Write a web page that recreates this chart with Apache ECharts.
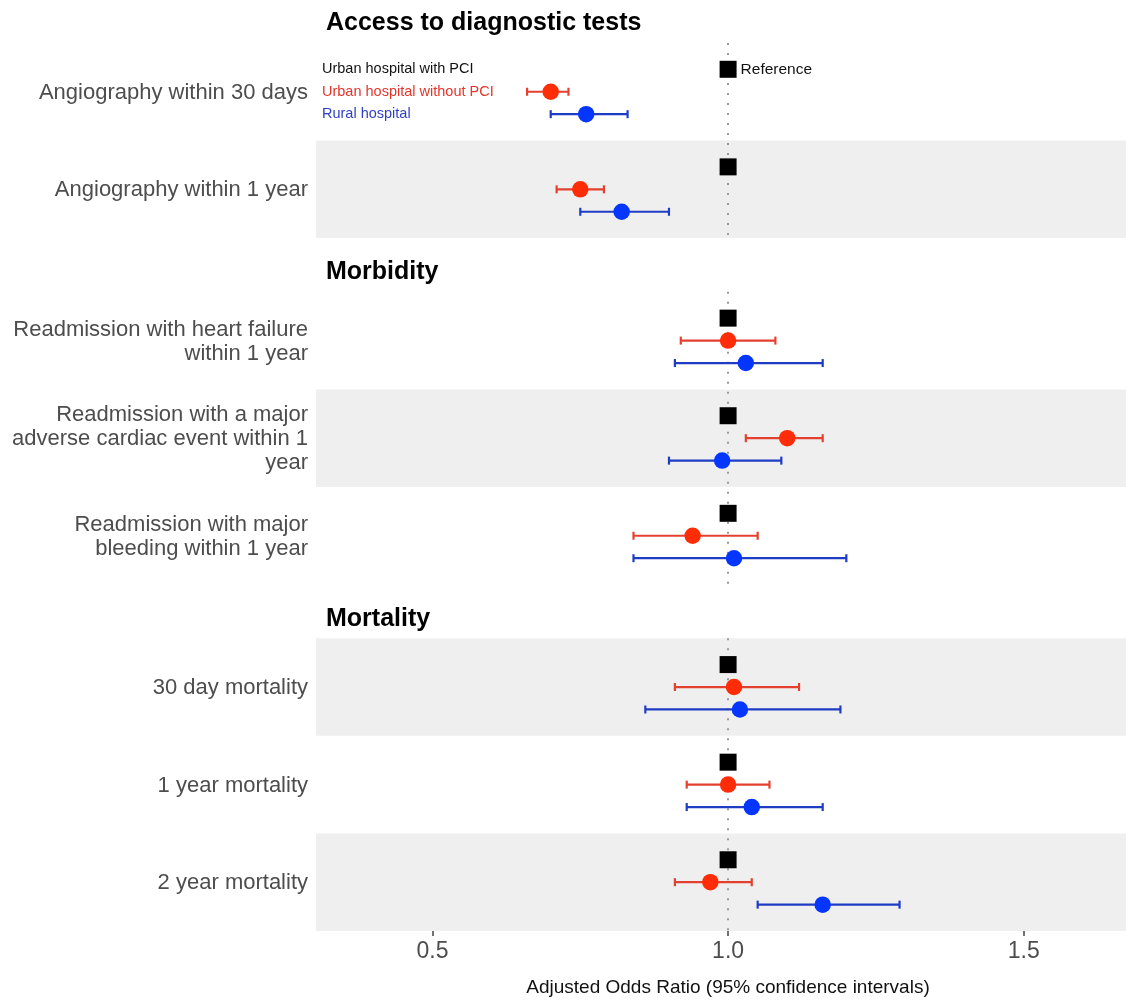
<!DOCTYPE html>
<html>
<head>
<meta charset="utf-8">
<script src="https://cdn.jsdelivr.net/npm/echarts@6/dist/echarts.min.js"></script>
<style>
html,body{margin:0;padding:0;background:#fff;}
#chart{width:1126px;height:1002px;}
</style>
</head>
<body>
<div id="chart"></div>
<script>
// ---------- data ----------
const sectionTitles = ['Access to diagnostic tests', 'Morbidity', 'Mortality'];
const rowLabels = [
  'Angiography within 30 days',
  'Angiography within 1 year',
  'Readmission with heart failure\nwithin 1 year',
  'Readmission with a major\nadverse cardiac event within 1\nyear',
  'Readmission with major\nbleeding within 1 year',
  '30 day mortality',
  '1 year mortality',
  '2 year mortality'
];
const rowSection = [0, 0, 1, 1, 1, 2, 2, 2];
const seriesNames = ['Urban hospital with PCI', 'Urban hospital without PCI', 'Rural hospital'];
const referenceOR = [1, 1, 1, 1, 1, 1, 1, 1];
const urbanNoPciOR   = [0.70, 0.75, 1.00, 1.10, 0.94, 1.01, 1.00, 0.97];
const urbanNoPciLow  = [0.66, 0.71, 0.92, 1.03, 0.84, 0.91, 0.93, 0.91];
const urbanNoPciHigh = [0.73, 0.79, 1.08, 1.16, 1.05, 1.12, 1.07, 1.04];
const ruralOR   = [0.76, 0.82, 1.03, 0.99, 1.01, 1.02, 1.04, 1.16];
const ruralLow  = [0.70, 0.75, 0.91, 0.90, 0.84, 0.86, 0.93, 1.05];
const ruralHigh = [0.83, 0.90, 1.16, 1.09, 1.20, 1.19, 1.16, 1.29];
const xTickValues = [0.5, 1.0, 1.5];
const referenceLabel = 'Reference';
const xAxisTitle = 'Adjusted Odds Ratio (95% confidence intervals)';

// ---------- layout (derived) ----------
const X_MIN = 0.303, X_MAX = 1.673;
const FIRST_TOP = 0.44, PANEL_GAP = 0.55, OFFSET = 0.23;
const panelTop = [], panelBottom = [], rowCenter = [];
{
  let y = FIRST_TOP;
  for (let s = 0; s < sectionTitles.length; s++) {
    panelTop.push(y);
    rowSection.forEach((sec, i) => { if (sec === s) { rowCenter[i] = y + 0.5; y += 1; } });
    panelBottom.push(y);
    y += PANEL_GAP;
  }
}
const Y_MAX = panelBottom[panelBottom.length - 1];

const FONT = 'Liberation Sans, Arial, Helvetica, sans-serif';
const RED_PT = '#ff2c08', RED_LN = '#e3412f';
const BLUE_PT = '#0536ff', BLUE_LN = '#1f3dc4';

const bands = [];
rowCenter.forEach((c, i) => { if (i % 2 === 1) bands.push([{ yAxis: c - 0.5 }, { yAxis: c + 0.5 }]); });
const refLines = panelTop.map((t, s) => [{ coord: [1, t] }, { coord: [1, panelBottom[s]] }]);

function errData(lo, hi, off) { return lo.map((l, i) => [l, hi[i], rowCenter[i] + off]); }
function errRender(color) {
  return function (params, api) {
    const a = api.coord([api.value(0), api.value(2)]);
    const b = api.coord([api.value(1), api.value(2)]);
    const st = { stroke: color, lineWidth: 2.2 };
    return { type: 'group', children: [
      { type: 'line', shape: { x1: a[0], y1: a[1], x2: b[0], y2: b[1] }, style: st },
      { type: 'line', shape: { x1: a[0], y1: a[1] - 4, x2: a[0], y2: a[1] + 4 }, style: st },
      { type: 'line', shape: { x1: b[0], y1: b[1] - 4, x2: b[0], y2: b[1] + 4 }, style: st }
    ]};
  };
}

const chart = echarts.init(document.getElementById('chart'), null, { renderer: 'canvas' });
chart.setOption({
  animation: false,
  backgroundColor: '#fff',
  grid: { left: 316, right: 0, top: 0, bottom: 67 },
  xAxis: {
    type: 'value', min: X_MIN, max: X_MAX, position: 'bottom',
    axisLine: { show: false, onZero: false },
    splitLine: { show: false },
    axisTick: { show: true, customValues: xTickValues, length: 5, lineStyle: { color: '#444', width: 1.5 } },
    axisLabel: { customValues: xTickValues, formatter: v => v.toFixed(1), fontSize: 23, color: '#4d4d4d', fontFamily: FONT, margin: 9 },
    name: xAxisTitle, nameLocation: 'middle', nameGap: 47,
    nameTextStyle: { fontSize: 19, color: '#111', fontFamily: FONT, padding: [0, 0, 0, 14] }
  },
  yAxis: { type: 'value', inverse: true, min: 0, max: Y_MAX, show: false },
  series: [
    {
      type: 'scatter', data: [], z: 1, silent: true,
      markArea: { silent: true, z: 1, itemStyle: { color: '#efefef' }, data: bands },
      markLine: { silent: true, z: 2, symbol: 'none', label: { show: false },
        lineStyle: { color: '#9a9a9a', width: 2, type: [2, 8] }, data: refLines }
    },
    {
      type: 'custom', z: 3, renderItem: errRender(RED_LN),
      data: errData(urbanNoPciLow, urbanNoPciHigh, 0)
    },
    {
      type: 'custom', z: 3, renderItem: errRender(BLUE_LN),
      data: errData(ruralLow, ruralHigh, OFFSET)
    },
    {
      name: seriesNames[0], type: 'scatter', z: 4, symbol: 'rect', symbolSize: 17,
      itemStyle: { color: '#000', opacity: 1 },
      data: referenceOR.map((v, i) => ({
        value: [v, rowCenter[i] - OFFSET],
        label: i === 0 ? { show: true, formatter: referenceLabel, position: 'right', distance: 4,
          fontSize: 15.5, color: '#111', fontFamily: FONT } : { show: false }
      }))
    },
    {
      name: seriesNames[1], type: 'scatter', z: 5, symbol: 'circle', symbolSize: 16.5,
      itemStyle: { color: RED_PT, opacity: 1 },
      data: urbanNoPciOR.map((v, i) => [v, rowCenter[i]])
    },
    {
      name: seriesNames[2], type: 'scatter', z: 5, symbol: 'circle', symbolSize: 16.5,
      itemStyle: { color: BLUE_PT, opacity: 1 },
      data: ruralOR.map((v, i) => [v, rowCenter[i] + OFFSET])
    },
    {
      // row labels, section headers and in-panel legend text
      type: 'custom', z: 6, silent: true,
      data: [0],
      renderItem: function (params, api) {
        const children = [];
        rowLabels.forEach((lab, i) => {
          const p = api.coord([X_MIN, rowCenter[i]]);
          children.push({ type: 'text', x: p[0] - 8, y: p[1] + 1,
            style: { text: lab, align: 'right', verticalAlign: 'middle', fontSize: 22, lineHeight: 24,
              fill: '#4d4d4d', fontFamily: FONT } });
        });
        sectionTitles.forEach((t, s) => {
          const p = api.coord([X_MIN, panelTop[s] - 0.2]);
          children.push({ type: 'text', x: p[0] + 10, y: p[1],
            style: { text: t, align: 'left', verticalAlign: 'middle', fontSize: 25, fontWeight: 'bold',
              fill: '#000', fontFamily: FONT } });
        });
        const legColors = ['#111', '#e3352b', '#2f3fbf'];
        seriesNames.forEach((n, k) => {
          const p = api.coord([X_MIN, rowCenter[0] + (k - 1) * OFFSET]);
          children.push({ type: 'text', x: p[0] + 6, y: p[1],
            style: { text: n, align: 'left', verticalAlign: 'middle', fontSize: 14.5,
              fill: legColors[k], fontFamily: FONT } });
        });
        return { type: 'group', children };
      }
    }
  ]
});
</script>
</body>
</html>
